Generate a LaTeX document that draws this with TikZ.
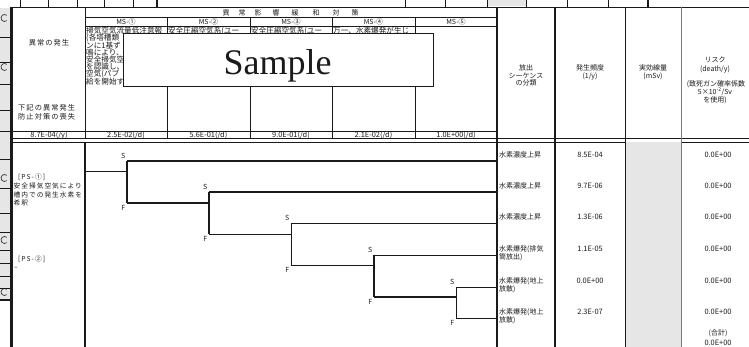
\documentclass[tikz,border=0pt]{standalone}
\usepackage{fontspec}
\setmainfont{Noto Sans CJK JP}
\newfontfamily\jpwide[LetterSpace=15]{Noto Sans CJK JP}
\newfontfamily\samplefont{Liberation Serif}
\usetikzlibrary{positioning,calc}
\definecolor{ink}{HTML}{1A1A1A}
\definecolor{cellgrey}{HTML}{E6E6E6}
\definecolor{rulegrey}{HTML}{7A7A7A}
\tikzset{
  every node/.style={inner sep=0pt, text=ink},
  jp/.style={font=\fontsize{7.6}{8}\selectfont},
  jpw/.style={font=\jpwide\fontsize{7.2}{8}\selectfont},
  jpws/.style={font=\jpwide\fontsize{6.7}{8}\selectfont},
  hd/.style={font=\fontsize{7}{8}\selectfont},
  num/.style={font=\fontsize{7.4}{8}\selectfont},
  tlbl/.style={font=\fontsize{7}{8}\selectfont},
  rule/.style={draw=ink, line width=0.7pt},
  thickrule/.style={draw=ink, line width=1.7pt},
  branch/.style={draw=ink, line width=0.7pt},
  mainbranch/.style={draw=ink, line width=1.4pt},
  samplebox/.style={draw=ink, line width=0.8pt, fill=white},
  hole/.style={draw=ink, line width=0.6pt},
}

\begin{document}
\begin{tikzpicture}[x=1pt, y=-1pt]
\useasboundingbox (0,0) rectangle (749,347);

% --- left margin strip (next sheet) ---
\fill[cellgrey] (0,8) rectangle (10,300);
\foreach \y in {37,62,84,110,131,159,188,213,232,250,263,276,288}
  \draw[rule, line width=0.5pt] (0,\y) -- (10,\y);
\draw[ink, line width=2pt] (0,300) -- (10,300);
\foreach \y in {18,67,178,240,292}
  \draw[hole] ($(4.5,\y)+(50:3.5)$) arc[start angle=50, end angle=310, radius=3.5];

% --- top strip (sheet above) ---
\foreach \x in {20,48,77,104,133,405,445,526,567,608}
  \draw[rule, line width=0.6pt] (\x,0) -- (\x,7);
\fill[cellgrey] (487,0) rectangle (526,6.5);
\draw[rule, line width=0.6pt] (487,0) -- (487,7);
\draw[thickrule] (157,0) -- (157,7);
\draw[thickrule] (648,0) -- (648,7);

% --- frame and header rules ---
\draw[thickrule] (10,7.5) -- (749,7.5);
\draw[ink, line width=3.5pt] (11.5,7.5) -- (11.5,347);
\draw[rule] (85,7.5) -- (85,139);
\draw[rule] (85,17) -- (497,17);
\draw[rule] (85,26) -- (497,26);
\foreach \x in {167,250,332,415}
  \draw[rule] (\x,17) -- (\x,139);
\draw[rule] (13,131) -- (497,131);
\draw[rule] (13,138.8) -- (749,138.8);
\draw[rule] (13,142) -- (749,142);
\fill[cellgrey] (625,142.5) rectangle (681,347);
\draw[thickrule, line width=1.6pt] (497,7.5) -- (497,347);
\draw[thickrule, line width=1.6pt] (555,7.5) -- (555,347);
\draw[rule] (625,7.5) -- (625,347);
\draw[rule, draw=rulegrey] (681,7.5) -- (681,347);
\draw[rule, line width=1.2pt] (85,142) -- (85,347);

% --- left column header ---
\node[jpw] (occur) at (49,43) {異常の発生};
\node[jpw, anchor=west] (loss1) at (18,108) {下記の異常発生};
\node[jpw, anchor=west] (loss2) at (18,117) {防止対策の喪失};

% --- mitigation header ---
\node[hd] (mh1) at (226,12.5) {異};
\node[hd] (mh2) at (242,12.5) {常};
\node[hd] (mh3) at (258,12.5) {影};
\node[hd] (mh4) at (276,12.5) {響};
\node[hd] (mh5) at (295,12.5) {緩};
\node[hd] (mh6) at (316,12.5) {和};
\node[hd] (mh7) at (336,12.5) {対};
\node[hd] (mh8) at (355,12.5) {策};
\node[hd] (ms1) at (126,21.5) {MS-①};
\node[hd] (ms2) at (208.5,21.5) {MS-②};
\node[hd] (ms3) at (291,21.5) {MS-③};
\node[hd] (ms4) at (373.5,21.5) {MS-④};
\node[hd] (ms5) at (456,21.5) {MS-⑤};

% --- measure texts (partly hidden) ---
\foreach \t [count=\i] in {掃気空気流量低注意報,{(各塔槽類},ンに1基ず,鳴により、,安全掃気空,を認識し、,空気(パブ,給を開始する。}
  \node[jp, anchor=west] (msa\i) at (86,{23.8+7.2*\i}) {\t};
\node[jp, anchor=west] (msb1) at (168,31) {安全圧縮空気系(ユー};
\node[jp, anchor=west] (msc1) at (251,31) {安全圧縮空気系(ユー};
\node[jp, anchor=west] (msd1) at (333,31) {万一、水素爆発が生じ};

% --- header values ---
\node[num] (p0) at (49,135) {8.7E-04(/y)};
\node[num] (p1) at (126,135) {2.5E-02(/d)};
\node[num] (p2) at (208.5,135) {5.6E-01(/d)};
\node[num] (p3) at (291,135) {9.0E-01(/d)};
\node[num] (p4) at (373.5,135) {2.1E-02(/d)};
\node[num] (p5) at (456,135) {1.0E+00(/d)};

% --- right header columns ---
\node[hd] (cls1) at (526,68) {放出};
\node[hd] (cls2) at (526,75.5) {シーケンス};
\node[hd] (cls3) at (526,83) {の分類};
\node[hd] (frq1) at (590,68) {発生頻度};
\node[hd] (frq2) at (590,76) {(1/y)};
\node[hd] (dose1) at (653,68) {実効線量};
\node[hd] (dose2) at (653,76) {(mSv)};
\node[hd] (risk1) at (715,60) {リスク};
\node[hd] (risk2) at (715,69) {(death/y)};
\node[hd] (risk3) at (716,84) {(致死ガン確率係数};
\node[hd] (risk4) at (715,92) {5×10\textsuperscript{-2}/Sv};
\node[hd] (risk5) at (715,100) {を使用)};

% --- sample stamp ---
\node[samplebox, minimum width=310, minimum height=53] (sample) at (278,59.5) {};
\node[font=\samplefont\fontsize{36}{36}\selectfont] (sampletext) at (277.5,66) {Sample};

% --- body: left column ---
\node[jpws, anchor=west] (ps1) at (18,177) {[PS-①]};
\node[jpws, anchor=west] (ps1a) at (13.5,186) {安全掃気空気により};
\node[jpws, anchor=west] (ps1b) at (13.5,195) {槽内での発生水素を};
\node[jpws, anchor=west] (ps1c) at (13.5,203) {希釈};
\node[jpws, anchor=west] (ps2) at (18,259) {[PS-②]};
\node[jpws, anchor=west] (ps2a) at (14,268) {–};

% --- event tree ---
\coordinate (t0) at (85,171);
\coordinate (n1) at (127,171);
\coordinate (bs1) at (127,161);
\coordinate (bf1) at (127,203);
\coordinate (bs2) at (209,192);
\coordinate (bf2) at (209,234);
\coordinate (bs3) at (291,223);
\coordinate (bf3) at (291,265);
\coordinate (bs4) at (374,255);
\coordinate (bf4) at (374,297);
\coordinate (bs5) at (456,287);
\coordinate (bf5) at (456,318);
\coordinate (e1) at (497,161);
\coordinate (e2) at (497,192);
\coordinate (e3) at (497,223);
\coordinate (e4) at (497,255);
\coordinate (e5) at (497,287);
\coordinate (e6) at (497,318);

\draw[branch] (t0) -- (n1);
\draw[mainbranch] (bs1) -- (bf1);
\draw[mainbranch] (bs1) -- (e1);
\draw[mainbranch] (bf1) -- (bf1 -| bs2);
\draw[mainbranch] (bs2) -- (bf2);
\draw[mainbranch] (bs2) -- (e2);
\draw[branch] (bf2) -- (bf2 -| bs3);
\draw[branch] (bs3) -- (bf3);
\draw[branch] (bs3) -- (e3);
\draw[branch] (bf3) -- (bf3 -| bs4);
\draw[mainbranch] (bs4) -- (bf4);
\draw[branch] (bs4) -- (e4);
\draw[mainbranch] (bf4) -- (bf4 -| bs5);
\draw[branch] (bs5) -- (bf5);
\draw[branch] (bs5) -- (e5);
\draw[branch] (bf5) -- (e6);

\foreach \n in {1,...,5} {
  \node[tlbl, anchor=south east] (s\n) at ($(bs\n)+(-1.5,-2)$) {S};
  \node[tlbl, anchor=north east] (f\n) at ($(bf\n)+(-1.5,2.5)$) {F};
}

% --- body: right columns ---
\foreach \t/\f/\y [count=\i] in {水素濃度上昇/8.5E-04/155, 水素濃度上昇/9.7E-06/186,
    水素濃度上昇/1.3E-06/217, 水素爆発(排気/1.1E-05/249, 水素爆発(地上/0.0E+00/281,
    水素爆発(地上/2.3E-07/312} {
  \node[hd, anchor=west] (cls\i) at (499,\y) {\t};
  \node[num] (frq\i) at (590,\y) {\f};
  \node[num] (risk\i) at (718,\y) {0.0E+00};
}
\node[hd, anchor=west] (cls4b) at (499,257) {筒放出)};
\node[hd, anchor=west] (cls5b) at (499,289) {放散)};
\node[hd, anchor=west] (cls6b) at (499,320) {放散)};
\node[hd] (sum1) at (718,333) {(合計)};
\node[num] (sum2) at (718,343) {0.0E+00};

\end{tikzpicture}
\end{document}
